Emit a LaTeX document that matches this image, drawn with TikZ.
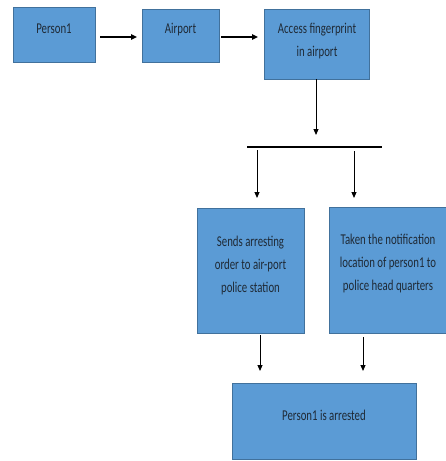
\documentclass[tikz,border=0pt]{standalone}
\usepackage{fontspec}
\setmainfont{Carlito}
\usetikzlibrary{arrows.meta}
\definecolor{boxfill}{HTML}{5B9BD5}
\definecolor{boxline}{HTML}{41719C}
\definecolor{txt}{HTML}{1F2A36}
\newcommand{\sqtext}[1]{\scalebox{0.72}[1]{\begin{tabular}{@{}c@{}}#1\end{tabular}}}
\begin{document}
\begin{tikzpicture}[x=1pt,y=-1pt,
  box/.style={draw=boxline,fill=boxfill,line width=0.8pt,inner sep=0pt},
  lbl/.style={inner sep=0pt,text=txt,font=\fontsize{15}{23}\selectfont},
  thickarr/.style={line width=1.6pt,-{Triangle[length=6pt,width=5.5pt]}},
  thinarr/.style={line width=1pt,-{Triangle[length=6pt,width=5pt]}}]
\useasboundingbox (0,0) rectangle (446,461);
% boxes
\node[box,minimum width=82pt,minimum height=55pt] (p1) at (54,34.5) {};
\node[box,minimum width=77pt,minimum height=53pt] (air) at (180.5,35.5) {};
\node[box,minimum width=105pt,minimum height=70pt] (acc) at (316.5,44) {};
\node[box,minimum width=107pt,minimum height=125pt] (lb) at (250.5,270.5) {};
\node[box,minimum width=117pt,minimum height=126pt] (rb) at (387.5,270) {};
\node[box,minimum width=184pt,minimum height=76pt] (bb) at (324,421) {};
% texts
\node[lbl] (p1t) at (54,29) {\sqtext{Person1}};
\node[lbl] (airt) at (180.5,29) {\sqtext{Airport}};
\node[lbl] (acct) at (317,40) {\sqtext{Access fingerprint\\in airport}};
\node[lbl] (lt) at (250.5,265) {\sqtext{Sends arresting\\order to air-port\\police station}};
\node[lbl] (rt) at (388,262.5) {\sqtext{Taken the notification\\location of person1 to\\police head quarters}};
\node[lbl] (bt) at (324,416) {\sqtext{Person1 is arrested}};
% coordinates
\coordinate (a1s) at (100,37);
\coordinate (a1e) at (137,37);
\coordinate (a2s) at (221,37);
\coordinate (a2e) at (258,37);
\coordinate (accbot) at (316,79);
\coordinate (bartip) at (316,135);
\coordinate (barL) at (247,147);
\coordinate (barR) at (382,147);
\coordinate (ls) at (257,150);
\coordinate (le) at (257,198);
\coordinate (rs) at (354,151);
\coordinate (re) at (354,198);
\coordinate (bls) at (260,335);
\coordinate (ble) at (260,371);
\coordinate (brs) at (363,337);
\coordinate (bre) at (363,371);
% connectors
\draw[thickarr] (a1s) -- (a1e);
\draw[thickarr] (a2s) -- (a2e);
\draw[thinarr] (accbot) -- (bartip);
\draw[line width=2pt] (barL) -- (barR);
\draw[thinarr] (ls) -- (le);
\draw[thinarr] (rs) -- (re);
\draw[thinarr] (bls) -- (ble);
\draw[thinarr] (brs) -- (bre);
\end{tikzpicture}
\end{document}
